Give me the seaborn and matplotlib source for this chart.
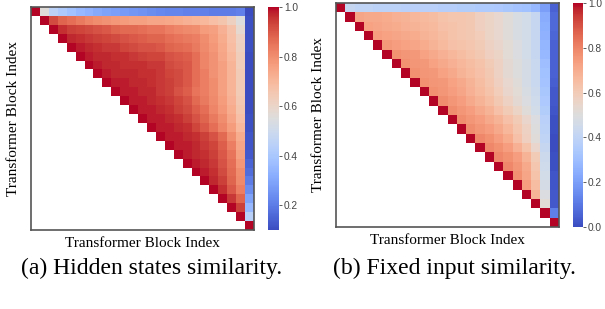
import matplotlib
matplotlib.use("Agg")
import matplotlib.pyplot as plt
from matplotlib.ticker import MultipleLocator
import numpy as np
import seaborn as sns

# (a) hidden states similarity, rows of the upper triangle starting at the diagonal
hidden_rows = [
    [1.0, .56, .45, .41, .38, .35, .33, .31, .29, .28, .27, .26, .25, .24, .23, .22, .22, .21, .21, .21, .20, .20, .20, .21, .10],
    [1.0, .92, .88, .86, .84, .82, .80, .79, .78, .77, .76, .76, .75, .75, .74, .73, .72, .71, .70, .68, .66, .62, .55, .11],
    [1.0, .96, .94, .93, .92, .91, .90, .88, .87, .87, .86, .85, .85, .83, .82, .81, .80, .77, .76, .72, .67, .58, .11],
    [1.0, .97, .96, .95, .94, .93, .92, .91, .90, .89, .88, .88, .86, .85, .84, .83, .80, .77, .73, .68, .61, .11],
    [1.0, .98, .97, .96, .95, .95, .93, .92, .91, .91, .90, .88, .87, .86, .84, .81, .78, .74, .69, .62, .11],
    [1.0, .98, .97, .97, .96, .96, .95, .94, .93, .93, .91, .90, .89, .86, .82, .79, .75, .70, .63, .10],
    [1.0, .98, .97, .97, .96, .96, .96, .95, .95, .92, .91, .90, .86, .82, .79, .76, .71, .63, .10],
    [1.0, .98, .97, .97, .97, .96, .96, .95, .93, .92, .90, .86, .83, .79, .76, .71, .64, .10],
    [1.0, .98, .98, .97, .97, .96, .95, .94, .92, .90, .86, .83, .80, .76, .71, .64, .10],
    [1.0, .98, .98, .97, .97, .95, .94, .91, .89, .85, .83, .80, .76, .71, .64, .10],
    [1.0, .98, .98, .97, .96, .95, .93, .91, .87, .84, .81, .77, .72, .65, .10],
    [1.0, .98, .98, .97, .96, .94, .92, .89, .86, .82, .78, .73, .66, .10],
    [1.0, .98, .98, .97, .96, .94, .91, .88, .84, .80, .75, .68, .11],
    [1.0, .98, .98, .97, .96, .93, .90, .86, .82, .77, .70, .11],
    [1.0, .98, .98, .97, .96, .94, .91, .87, .80, .73, .12],
    [1.0, .98, .98, .97, .95, .93, .89, .83, .75, .12],
    [1.0, .98, .97, .96, .94, .90, .85, .76, .13],
    [1.0, .98, .97, .95, .91, .86, .78, .15],
    [1.0, .98, .96, .92, .87, .80, .17],
    [1.0, .97, .94, .88, .81, .20],
    [1.0, .96, .90, .83, .24],
    [1.0, .95, .88, .29],
    [1.0, .94, .35],
    [1.0, .44],
    [1.0],
]

# (b) fixed input similarity
fixed_rows = [
    [1.0, .42, .40, .40, .39, .39, .39, .38, .38, .38, .38, .37, .37, .36, .36, .35, .35, .34, .33, .32, .31, .28, .20, .05],
    [1.0, .72, .71, .71, .70, .69, .68, .67, .66, .65, .63, .62, .62, .61, .58, .56, .54, .51, .48, .46, .42, .24, .07],
    [1.0, .73, .72, .71, .70, .69, .68, .67, .66, .64, .63, .62, .61, .58, .56, .54, .51, .48, .46, .42, .25, .07],
    [1.0, .74, .73, .72, .71, .70, .68, .67, .65, .63, .62, .61, .59, .56, .54, .51, .48, .46, .42, .26, .06],
    [1.0, .75, .74, .73, .72, .70, .68, .66, .64, .63, .62, .60, .57, .55, .52, .49, .46, .42, .27, .05],
    [1.0, .77, .76, .75, .73, .71, .69, .67, .65, .63, .61, .58, .56, .52, .49, .46, .42, .28, .05],
    [1.0, .77, .76, .75, .73, .71, .69, .67, .65, .63, .60, .57, .53, .50, .47, .43, .30, .05],
    [1.0, .77, .76, .75, .73, .71, .68, .66, .64, .61, .57, .53, .50, .47, .43, .31, .05],
    [1.0, .77, .76, .75, .73, .71, .68, .65, .62, .58, .54, .51, .47, .43, .32, .04],
    [1.0, .77, .76, .74, .72, .69, .66, .63, .59, .55, .52, .48, .44, .33, .03],
    [1.0, .78, .76, .74, .71, .68, .65, .61, .57, .53, .49, .45, .34, .03],
    [1.0, .78, .76, .74, .71, .68, .64, .60, .56, .51, .46, .36, .02],
    [1.0, .78, .76, .74, .71, .68, .64, .60, .55, .49, .38, .01],
    [1.0, .78, .76, .74, .71, .67, .62, .57, .50, .39, .01],
    [1.0, .79, .77, .74, .70, .64, .58, .51, .40, .00],
    [1.0, .79, .77, .74, .69, .63, .55, .42, .00],
    [1.0, .79, .77, .74, .68, .60, .44, .01],
    [1.0, .79, .76, .71, .62, .45, .01],
    [1.0, .77, .72, .63, .46, .02],
    [1.0, .74, .65, .47, .02],
    [1.0, .68, .49, .03],
    [1.0, .52, .03],
    [1.0, .12],
    [1.0],
]

axis_label = "Transformer Block Index"
captions = ["(a) Hidden states similarity.", "(b) Fixed input similarity."]


def build_matrix(rows):
    n = len(rows)
    m = np.full((n, n), np.nan)
    for i, r in enumerate(rows):
        m[i, i:] = r
    return m


serif = ["Liberation Serif", "DejaVu Serif"]
W, H = 605, 309
fig = plt.figure(figsize=(W / 100, H / 100), dpi=100)


def px_rect(x0, y0, x1, y1):
    return [x0 / W, 1 - y1 / H, (x1 - x0) / W, (y1 - y0) / H]


panels = [
    (hidden_rows, px_rect(31, 7, 254, 230), px_rect(268, 7, 279, 230), 152),
    (fixed_rows, px_rect(336, 3, 559, 227), px_rect(573, 3, 583, 227), 454),
]

for (rows, ax_rect, cb_rect, cap_x), cap in zip(panels, captions):
    data = build_matrix(rows)
    ax = fig.add_axes(ax_rect)
    cax = fig.add_axes(cb_rect)
    sns.heatmap(data, mask=np.isnan(data), cmap="coolwarm", ax=ax, cbar_ax=cax,
                xticklabels=False, yticklabels=False)
    for s in ax.spines.values():
        s.set_visible(True)
        s.set_color("#555555")
        s.set_linewidth(1.2)
    ax.set_xlabel(axis_label, fontsize=11, family=serif, labelpad=5)
    ax.set_ylabel(axis_label, fontsize=11, family=serif, labelpad=8)
    cax.yaxis.set_major_locator(MultipleLocator(0.2))
    cax.tick_params(labelsize=7.3, colors="#444444", length=2, width=0.6, pad=1.5)
    for t in cax.get_yticklabels():
        t.set_family(["Liberation Sans", "DejaVu Sans"])
    fig.text(cap_x / W, 1 - 268 / H, cap, ha="center", va="center",
             fontsize=17, family=serif)

fig.savefig("out.png", dpi=100)
